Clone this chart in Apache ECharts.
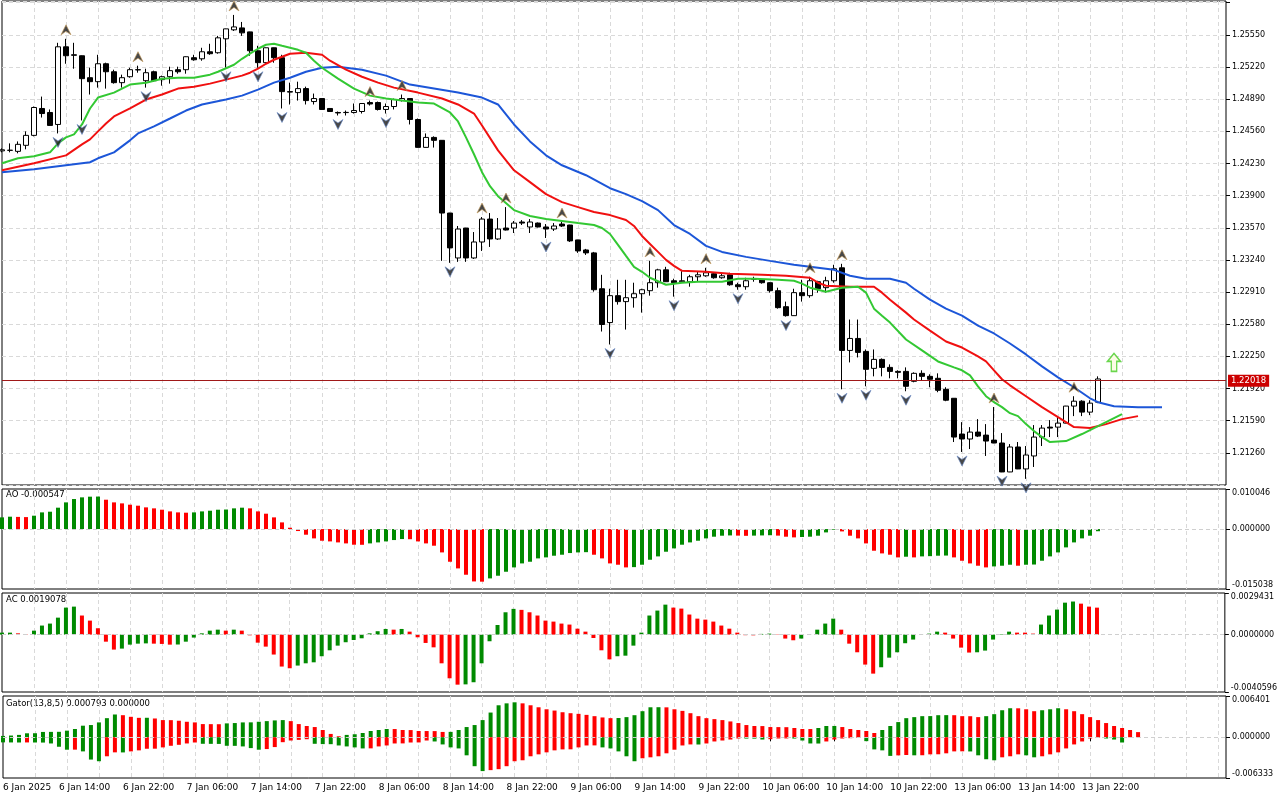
<!DOCTYPE html>
<html>
<head>
<meta charset="utf-8">
<title>GBPUSD H1 - Alligator, AO, AC, Gator</title>
<script src="https://cdn.jsdelivr.net/npm/echarts@6/dist/echarts.min.js"></script>
<style>
  html, body { margin: 0; padding: 0; background: #fff; }
  #chart { width: 1280px; height: 800px; }
</style>
</head>
<body>
<div id="chart"></div>
<script>
// --- bars (H1): [open, close, low, high]
const candles = [
  [1.24359,1.24370,1.24344,1.24385],[1.24364,1.24366,1.24344,1.24436],[1.24354,1.24426,1.24334,1.24456],[1.24416,1.24518,1.24375,1.24559],
  [1.24518,1.24804,1.24508,1.24814],[1.24794,1.24742,1.24701,1.24916],[1.24753,1.24620,1.24618,1.24784],[1.24630,1.25427,1.24538,1.25468],
  [1.25427,1.25335,1.25253,1.25509],[1.25345,1.25340,1.25202,1.25468],[1.25335,1.25100,1.24671,1.25338],[1.25110,1.25069,1.24937,1.25212],
  [1.25069,1.25253,1.25008,1.25345],[1.25253,1.25171,1.24998,1.25264],[1.25171,1.25059,1.25049,1.25192],[1.25059,1.25110,1.25008,1.25141],
  [1.25120,1.25192,1.25110,1.25212],[1.25192,1.25190,1.25161,1.25233],[1.25079,1.25161,1.25008,1.25202],[1.25171,1.25079,1.25069,1.25182],
  [1.25090,1.25120,1.25028,1.25131],[1.25120,1.25182,1.25049,1.25223],[1.25192,1.25171,1.25151,1.25223],[1.25192,1.25325,1.25151,1.25328],
  [1.25315,1.25294,1.25284,1.25345],[1.25304,1.25376,1.25284,1.25417],[1.25376,1.25356,1.25345,1.25458],[1.25366,1.25519,1.25356,1.25539],
  [1.25509,1.25611,1.25212,1.25613],[1.25601,1.25631,1.25590,1.25754],[1.25621,1.25570,1.25539,1.25682],[1.25580,1.25386,1.25335,1.25582],
  [1.25386,1.25264,1.25212,1.25437],[1.25264,1.25417,1.25253,1.25419],[1.25417,1.25315,1.25264,1.25419],[1.25315,1.24967,1.24794,1.25345],
  [1.24967,1.24962,1.24835,1.25059],[1.24957,1.24998,1.24875,1.25069],[1.24998,1.24875,1.24835,1.25018],[1.24865,1.24896,1.24835,1.24947],
  [1.24896,1.24784,1.24779,1.24898],[1.24794,1.24763,1.24758,1.24799],[1.24753,1.24748,1.24722,1.24763],[1.24752,1.24754,1.24722,1.24773],
  [1.24753,1.24773,1.24742,1.24845],[1.24763,1.24845,1.24742,1.24850],[1.24855,1.24840,1.24824,1.24875],[1.24855,1.24784,1.24773,1.24865],
  [1.24784,1.24814,1.24742,1.24845],[1.24814,1.24886,1.24784,1.24896],[1.24875,1.24896,1.24865,1.24937],[1.24896,1.24681,1.24630,1.24898],
  [1.24681,1.24395,1.24393,1.24691],[1.24395,1.24497,1.24393,1.24538],[1.24497,1.24467,1.24393,1.24508],[1.24467,1.23721,1.23230,1.24469],
  [1.23721,1.23363,1.23210,1.23723],[1.23260,1.23557,1.23220,1.23588],[1.23567,1.23260,1.23220,1.23569],[1.23260,1.23424,1.23250,1.23526],
  [1.23424,1.23659,1.23332,1.23680],[1.23659,1.23455,1.23373,1.23721],[1.23455,1.23557,1.23445,1.23670],[1.23567,1.23547,1.23542,1.23782],
  [1.23567,1.23618,1.23516,1.23639],[1.23629,1.23618,1.23598,1.23649],[1.23578,1.23629,1.23516,1.23659],[1.23618,1.23578,1.23573,1.23624],
  [1.23578,1.23557,1.23465,1.23608],[1.23557,1.23588,1.23537,1.23618],[1.23608,1.23588,1.23578,1.23629],[1.23598,1.23435,1.23424,1.23600],
  [1.23445,1.23332,1.23312,1.23447],[1.23342,1.23312,1.23291,1.23353],[1.23312,1.22934,1.22914,1.23322],[1.22944,1.22577,1.22505,1.23087],
  [1.22597,1.22873,1.22372,1.22944],[1.22873,1.22812,1.22781,1.23036],[1.22812,1.22852,1.22525,1.23036],[1.22852,1.22893,1.22750,1.23006],
  [1.22893,1.22934,1.22699,1.22944],[1.22924,1.23006,1.22873,1.23230],[1.23006,1.23138,1.22955,1.23149],[1.23138,1.23016,1.23014,1.23169],
  [1.23026,1.23006,1.22863,1.23047],[1.23016,1.23026,1.23006,1.23138],[1.23016,1.23067,1.22965,1.23087],[1.23067,1.23087,1.23016,1.23118],
  [1.23077,1.23108,1.23067,1.23159],[1.23098,1.23057,1.23047,1.23108],[1.23057,1.23077,1.23047,1.23108],[1.23087,1.22985,1.22975,1.23108],
  [1.22985,1.22965,1.22934,1.23006],[1.22965,1.23026,1.22934,1.23057],[1.23047,1.23042,1.23016,1.23067],[1.23036,1.23006,1.22996,1.23038],
  [1.23006,1.22924,1.22904,1.23011],[1.22924,1.22750,1.22740,1.22955],[1.22760,1.22668,1.22658,1.22812],[1.22668,1.22904,1.22666,1.22944],
  [1.22904,1.22873,1.22812,1.23036],[1.22873,1.23026,1.22852,1.23067],[1.23016,1.22944,1.22904,1.23026],[1.22955,1.23026,1.22904,1.23067],
  [1.23026,1.23149,1.23006,1.23190],[1.23159,1.22311,1.21912,1.23200],[1.22311,1.22434,1.22188,1.22628],[1.22434,1.22291,1.22239,1.22628],
  [1.22301,1.22117,1.21943,1.22321],[1.22127,1.22219,1.22045,1.22321],[1.22219,1.22137,1.22045,1.22229],[1.22137,1.22096,1.22025,1.22168],
  [1.22096,1.22086,1.22025,1.22107],[1.22096,1.21943,1.21892,1.22137],[1.21994,1.22076,1.21984,1.22086],[1.22076,1.22045,1.22004,1.22107],
  [1.22045,1.22015,1.21933,1.22066],[1.22025,1.21902,1.21882,1.22076],[1.21912,1.21800,1.21790,1.21933],[1.21820,1.21422,1.21371,1.21822],
  [1.21453,1.21402,1.21269,1.21575],[1.21402,1.21473,1.21299,1.21524],[1.21473,1.21432,1.21422,1.21606],[1.21442,1.21381,1.21228,1.21555],
  [1.21391,1.21361,1.21359,1.21730],[1.21361,1.21064,1.21062,1.21463],[1.21064,1.21320,1.21062,1.21350],[1.21320,1.21095,1.21093,1.21371],
  [1.21095,1.21238,1.20993,1.21330],[1.21228,1.21422,1.21115,1.21545],[1.21422,1.21514,1.21330,1.21545],[1.21524,1.21514,1.21422,1.21596],
  [1.21524,1.21565,1.21422,1.21637],[1.21565,1.21740,1.21563,1.21742],[1.21740,1.21790,1.21637,1.21841],[1.21790,1.21678,1.21637,1.21800],
  [1.21678,1.21770,1.21647,1.21800],[1.21780,1.22018,1.21770,1.22045]
];

// --- Alligator lines, read at bar positions: [bar index, price]
const jawPts = [
  [0,1.24140],[4,1.24170],[8,1.24211],[11,1.24242],[12,1.24283],[14,1.24344],[16,1.24467],[17,1.24538],[19,1.24610],[21,1.24691],
  [23,1.24773],[25,1.24835],[28,1.24886],[30,1.24926],[32,1.24988],[34,1.25059],[36,1.25110],[38,1.25171],[40,1.25212],[42,1.25223],
  [45,1.25192],[48,1.25131],[51,1.25039],[54,1.24998],[57,1.24957],[60,1.24906],[62,1.24835],[64,1.24630],[66,1.24456],[68,1.24313],
  [70,1.24211],[73,1.24109],[76,1.23976],[78,1.23915],[80,1.23843],[82,1.23751],[84,1.23598],[86,1.23506],[88,1.23384],[90,1.23322],
  [93,1.23271],[96,1.23230],[99,1.23190],[102,1.23159],[104,1.23138],[106,1.23077],[108,1.23047],[111,1.23047],[113,1.23006],[114,1.22944],
  [116,1.22832],[118,1.22740],[120,1.22668],[122,1.22566],[124,1.22485],[126,1.22382],[128,1.22270],[130,1.22147],[132,1.22035],[134,1.21933],
  [136,1.21820],[137,1.21780],[139,1.21739],[142,1.21729],[145,1.21729]
];
const teethPts = [
  [0,1.24160],[4,1.24232],[8,1.24313],[10,1.24426],[11,1.24477],[12,1.24559],[13,1.24640],[14,1.24712],[16,1.24794],[18,1.24886],
  [20,1.24937],[22,1.24998],[24,1.25018],[26,1.25049],[28,1.25090],[30,1.25131],[31,1.25161],[32,1.25202],[33,1.25253],[34,1.25294],
  [35,1.25325],[36,1.25356],[38,1.25366],[40,1.25345],[41,1.25284],[43,1.25192],[45,1.25120],[47,1.25059],[49,1.25008],[52,1.24957],
  [55,1.24896],[57,1.24835],[59,1.24742],[60,1.24620],[62,1.24364],[64,1.24160],[66,1.24038],[68,1.23915],[70,1.23833],[72,1.23782],
  [74,1.23731],[76,1.23700],[78,1.23649],[79,1.23588],[80,1.23486],[81,1.23404],[82,1.23322],[83,1.23240],[84,1.23179],[85,1.23128],
  [88,1.23118],[91,1.23098],[95,1.23087],[98,1.23077],[101,1.23057],[102,1.23006],[103,1.22975],[106,1.22965],[109,1.22965],[110,1.22904],
  [111,1.22832],[113,1.22699],[114,1.22628],[116,1.22515],[118,1.22403],[120,1.22341],[122,1.22249],[123,1.22198],[124,1.22107],[125,1.22015],
  [126,1.21953],[128,1.21841],[130,1.21729],[132,1.21626],[134,1.21524],[136,1.21514],[138,1.21555],[140,1.21606],[142,1.21637]
];
const lipsPts = [
  [0,1.24232],[2,1.24283],[4,1.24303],[6,1.24344],[7,1.24436],[8,1.24497],[9,1.24528],[10,1.24630],[11,1.24794],[12,1.24906],
  [14,1.24957],[16,1.25039],[18,1.25059],[20,1.25100],[22,1.25110],[24,1.25110],[26,1.25141],[27,1.25171],[29,1.25243],[30,1.25304],
  [31,1.25356],[32,1.25407],[33,1.25448],[34,1.25458],[35,1.25437],[36,1.25417],[37,1.25396],[38,1.25366],[39,1.25284],[40,1.25212],
  [42,1.25100],[44,1.24998],[46,1.24926],[48,1.24896],[50,1.24875],[52,1.24855],[54,1.24845],[56,1.24753],[57,1.24661],[58,1.24497],
  [59,1.24324],[60,1.24140],[61,1.23997],[62,1.23894],[64,1.23751],[66,1.23690],[68,1.23659],[70,1.23639],[72,1.23618],[74,1.23598],
  [75,1.23567],[76,1.23506],[77,1.23394],[78,1.23281],[79,1.23169],[80,1.23118],[81,1.23057],[83,1.22985],[85,1.23006],[87,1.23016],
  [90,1.23016],[92,1.23047],[94,1.23047],[97,1.23036],[99,1.23026],[100,1.22996],[101,1.22955],[103,1.22914],[105,1.22955],[107,1.22965],
  [108,1.22904],[109,1.22740],[110,1.22668],[111,1.22597],[113,1.22423],[115,1.22311],[117,1.22198],[119,1.22137],[120,1.22107],[121,1.22055],
  [122,1.21943],[123,1.21841],[124,1.21780],[125,1.21729],[126,1.21667],[127,1.21637],[128,1.21555],[129,1.21483],[130,1.21422],[131,1.21371],
  [133,1.21381],[135,1.21453],[137,1.21534],[139,1.21616],[140,1.21657]
];

// fractal bars
const fractalUp = [8, 17, 29, 46, 50, 60, 63, 70, 81, 88, 101, 105, 124, 134];
const fractalDown = [7, 10, 18, 28, 32, 35, 42, 48, 56, 68, 76, 84, 92, 98, 105, 108, 113, 120, 125, 128];
const buySignal = [139, 1.22188];
const lastPrice = 1.22018;

// --- Awesome Oscillator
const aoValues = [
  0.00293,0.00310,0.00305,0.00300,0.00335,0.00418,0.00435,0.00536,0.00669,0.00753,
  0.00795,0.00812,0.00815,0.00736,0.00669,0.00644,0.00611,0.00586,0.00544,0.00519,
  0.00485,0.00443,0.00418,0.00410,0.00418,0.00443,0.00460,0.00485,0.00490,0.00519,
  0.00536,0.00519,0.00443,0.00385,0.00293,0.00167,0.00033,-0.00050,-0.00142,-0.00234,
  -0.00293,-0.00310,-0.00335,-0.00360,-0.00393,-0.00395,-0.00360,-0.00335,-0.00310,-0.00276,
  -0.00251,-0.00255,-0.00310,-0.00360,-0.00418,-0.00586,-0.00820,-0.00987,-0.01146,-0.01314,
  -0.01320,-0.01238,-0.01171,-0.01071,-0.00962,-0.00862,-0.00820,-0.00736,-0.00711,-0.00669,
  -0.00644,-0.00602,-0.00586,-0.00580,-0.00644,-0.00736,-0.00862,-0.00895,-0.00962,-0.00955,
  -0.00895,-0.00770,-0.00686,-0.00569,-0.00485,-0.00393,-0.00335,-0.00293,-0.00234,-0.00192,
  -0.00167,-0.00160,-0.00165,-0.00170,-0.00165,-0.00160,-0.00155,-0.00165,-0.00192,-0.00209,
  -0.00200,-0.00192,-0.00167,-0.00084,-0.00017,-0.00059,-0.00167,-0.00234,-0.00360,-0.00544,
  -0.00611,-0.00644,-0.00711,-0.00694,-0.00711,-0.00686,-0.00680,-0.00669,-0.00665,-0.00711,
  -0.00795,-0.00862,-0.00920,-0.00962,-0.00937,-0.00920,-0.00895,-0.00920,-0.00895,-0.00890,
  -0.00795,-0.00686,-0.00586,-0.00460,-0.00335,-0.00234,-0.00167,-0.000547
];
const aoColors =
  "ggrrgggggg" + "gggrrrrrrr" + "rrrrgggggg" + "grrrrrrrrr" + "rrrrrrgggg" +
  "grrrrrrrrr" + "rggggggggg" + "ggggrrrrrg" + "gggggggggg" + "ggrrgggrrr" +
  "gggggrrrrr" + "rrrgrggggr" + "rrrrgggrgg" + "gggggggg";

// --- Accelerator Oscillator
const acValues = [
  0.00014,0.00014,0.00009,0.00002,0.00028,0.00064,0.00078,0.00120,0.00191,0.00198,
  0.00135,0.00099,0.00045,-0.00050,-0.00106,-0.00099,-0.00071,-0.00064,-0.00062,-0.00064,
  -0.00066,-0.00071,-0.00070,-0.00050,-0.00021,0.00009,0.00028,0.00035,0.00028,0.00035,
  0.00028,-0.00005,-0.00057,-0.00085,-0.00141,-0.00226,-0.00238,-0.00219,-0.00203,-0.00196,
  -0.00153,-0.00111,-0.00078,-0.00054,-0.00038,-0.00026,0.00009,0.00024,0.00040,0.00035,
  0.00040,0.00021,-0.00019,-0.00059,-0.00090,-0.00203,-0.00309,-0.00354,-0.00352,-0.00337,
  -0.00203,-0.00047,0.00068,0.00158,0.00182,0.00175,0.00158,0.00135,0.00099,0.00092,
  0.00078,0.00071,0.00042,0.00021,-0.00024,-0.00111,-0.00175,-0.00153,-0.00149,-0.00078,
  0.00014,0.00135,0.00170,0.00212,0.00191,0.00184,0.00142,0.00113,0.00106,0.00092,
  0.00064,0.00042,0.00014,-0.00004,-0.00005,0.00005,0.00007,0.00002,-0.00028,-0.00040,
  -0.00028,-0.00002,0.00035,0.00078,0.00113,0.00035,-0.00064,-0.00125,-0.00212,-0.00276,
  -0.00231,-0.00163,-0.00125,-0.00061,-0.00035,0.00002,0.00007,0.00021,0.00014,-0.00028,
  -0.00092,-0.00127,-0.00125,-0.00113,-0.00035,0.00003,0.00021,0.00014,0.00014,0.00007,
  0.00071,0.00135,0.00177,0.00226,0.00234,0.00219,0.00198,0.0019078
];
const acColors =
  "ggrrgggggg" + "rrrrrggggr" + "rrggggggrg" + "rrrrrrrggg" + "gggggggggr" +
  "grrrrrrrgg" + "gggggrrrrr" + "rrrrrrrggg" + "ggggrrrrrr" + "rrrrrggrrr" +
  "gggggrrrrr" + "ggggggggrr" + "rrgggggrrr" + "gggggrrr";

// --- Gator oscillator (upper = |jaw-teeth|, lower = -|teeth-lips|)
const gatorUpper = [
  0.00020,0.00026,0.00036,0.00061,0.00062,0.00082,0.00083,0.00084,0.00102,0.00128,
  0.00179,0.00189,0.00230,0.00296,0.00353,0.00342,0.00317,0.00301,0.00302,0.00291,
  0.00266,0.00265,0.00256,0.00240,0.00230,0.00204,0.00203,0.00202,0.00215,0.00220,
  0.00230,0.00231,0.00240,0.00250,0.00261,0.00266,0.00250,0.00204,0.00174,0.00158,
  0.00112,0.00051,0.00015,0.00036,0.00046,0.00066,0.00097,0.00112,0.00128,0.00127,
  0.00112,0.00111,0.00097,0.00096,0.00095,0.00082,0.00083,0.00112,0.00158,0.00189,
  0.00266,0.00383,0.00496,0.00526,0.00542,0.00526,0.00496,0.00465,0.00434,0.00414,
  0.00388,0.00373,0.00363,0.00347,0.00327,0.00307,0.00296,0.00298,0.00312,0.00342,
  0.00404,0.00465,0.00466,0.00464,0.00434,0.00409,0.00373,0.00327,0.00296,0.00281,
  0.00266,0.00245,0.00220,0.00189,0.00174,0.00173,0.00158,0.00157,0.00156,0.00143,
  0.00128,0.00127,0.00143,0.00174,0.00175,0.00158,0.00128,0.00112,0.00097,0.00066,
  0.00112,0.00174,0.00235,0.00296,0.00312,0.00327,0.00328,0.00342,0.00343,0.00342,
  0.00327,0.00326,0.00312,0.00327,0.00358,0.00419,0.00450,0.00449,0.00434,0.00404,
  0.00419,0.00434,0.00450,0.00434,0.00404,0.00358,0.00312,0.00266,0.00220,0.00174,
  0.00143,0.00112,0.000793
];
const gatorLower = [
  -0.00080,-0.00081,-0.00082,-0.00081,-0.00082,-0.00083,-0.00097,-0.00148,-0.00194,-0.00193,
  -0.00220,-0.00347,-0.00373,-0.00296,-0.00235,-0.00236,-0.00220,-0.00204,-0.00179,-0.00178,
  -0.00158,-0.00133,-0.00118,-0.00097,-0.00082,-0.00102,-0.00103,-0.00104,-0.00133,-0.00134,
  -0.00143,-0.00169,-0.00194,-0.00184,-0.00153,-0.00077,-0.00051,-0.00041,-0.00031,-0.00102,
  -0.00107,-0.00108,-0.00128,-0.00143,-0.00158,-0.00174,-0.00173,-0.00143,-0.00128,-0.00097,
  -0.00096,-0.00082,-0.00081,-0.00051,-0.00066,-0.00112,-0.00158,-0.00174,-0.00281,-0.00450,
  -0.00526,-0.00511,-0.00496,-0.00450,-0.00373,-0.00358,-0.00296,-0.00266,-0.00235,-0.00204,
  -0.00189,-0.00188,-0.00158,-0.00128,-0.00127,-0.00158,-0.00174,-0.00220,-0.00296,-0.00373,
  -0.00327,-0.00312,-0.00296,-0.00250,-0.00194,-0.00128,-0.00112,-0.00113,-0.00097,-0.00066,
  -0.00051,-0.00036,-0.00020,-0.00021,-0.00022,-0.00036,-0.00031,-0.00020,-0.00019,-0.00021,
  -0.00051,-0.00097,-0.00098,-0.00066,-0.00036,-0.00020,-0.00015,-0.00010,-0.00061,-0.00189,
  -0.00204,-0.00290,-0.00282,-0.00276,-0.00281,-0.00280,-0.00266,-0.00265,-0.00250,-0.00220,
  -0.00219,-0.00221,-0.00281,-0.00342,-0.00358,-0.00312,-0.00296,-0.00266,-0.00281,-0.00312,
  -0.00296,-0.00266,-0.00235,-0.00174,-0.00112,-0.00066,-0.00020,-0.00005,-0.00020,-0.00036,
  -0.00082
];

// time axis labels, one every 8 bars
const timeLabels = ['6 Jan 2025', '6 Jan 14:00', '6 Jan 22:00', '7 Jan 06:00', '7 Jan 14:00', '7 Jan 22:00',
  '8 Jan 06:00', '8 Jan 14:00', '8 Jan 22:00', '9 Jan 06:00', '9 Jan 14:00', '9 Jan 22:00',
  '10 Jan 06:00', '10 Jan 14:00', '10 Jan 22:00', '13 Jan 06:00', '13 Jan 14:00', '13 Jan 22:00'];

const SLOTS = 154; // bars + room for shifted Alligator lines
const GREEN = '#008a00', RED = '#ff0000';
const FONT = 'DejaVu Sans';

const cats = [];
for (let i = 0; i < SLOTS; i++) cats.push(String(i));

function colored(values, codes) {
  return values.map(function (v, i) {
    return { value: v, itemStyle: { color: codes[i] === 'g' ? GREEN : RED } };
  });
}
function gatorColored(values) {
  let prev = null, col = GREEN;
  return values.map(function (v) {
    const a = Math.abs(v);
    if (prev !== null) {
      if (a > prev) col = GREEN; else if (a < prev) col = RED;
    }
    prev = a;
    return { value: v, itemStyle: { color: col } };
  });
}

const grids = [
  { left: 2, right: 54, top: 1, height: 484 },
  { left: 2, right: 54, top: 489, height: 100 },
  { left: 2, right: 54, top: 593, height: 99 },
  { left: 2, right: 54, top: 696, height: 82 }
].map(function (g) {
  return Object.assign({ show: true, borderColor: '#000', borderWidth: 1, backgroundColor: '#fff' }, g);
});

const dashed = { color: '#d9d9d9', type: [4, 3], width: 1 };

function makeX(idx) {
  const last = idx === 3;
  return {
    type: 'category', gridIndex: idx, data: cats, boundaryGap: false,
    axisLine: { show: false },
    axisTick: {
      show: last, length: 4, lineStyle: { color: '#000' },
      interval: function (i) { return i % 8 === 0 && i <= 136; }
    },
    axisLabel: {
      show: last, fontFamily: FONT, fontSize: 9, color: '#000', margin: 5, align: 'left',
      interval: function (i) { return i === 0 || (i % 8 === 7 && i < 136); },
      formatter: function (v, i) { return i === 0 ? timeLabels[0] : timeLabels[(i + 1) / 8]; }
    },
    splitLine: { show: true, lineStyle: dashed, interval: function (i) { return i > 0 && i % 4 === 0; } }
  };
}

function subY(idx, min, max, digits) {
  return {
    type: 'value', gridIndex: idx, position: 'right', min: min, max: max, scale: true,
    axisLine: { show: false },
    splitLine: { show: false },
    axisTick: { show: true, length: 4, lineStyle: { color: '#000' }, customValues: [min, 0, max] },
    axisLabel: {
      fontFamily: FONT, fontSize: 8, color: '#000', margin: 6,
      customValues: [min, 0, max],
      verticalAlignMaxLabel: 'top', verticalAlignMinLabel: 'bottom',
      formatter: function (v) { return v.toFixed(digits); }
    }
  };
}

const zeroLine = {
  symbol: 'none', silent: true, animation: false,
  lineStyle: { color: '#cfcfcf', type: [4, 3], width: 1 },
  label: { show: false },
  data: [{ yAxis: 0 }]
};

const upArrow = 'path://M5,0 L10,10 L5,6.5 L0,10 Z';
const downArrow = 'path://M0,0 L5,3.5 L10,0 L5,10 Z';
const buyArrow = 'path://M6,0 L12,7 L8.5,7 L8.5,16 L3.5,16 L3.5,7 L0,7 Z';

const chart = echarts.init(document.getElementById('chart'), null, { renderer: 'canvas' });

const option = {
  animation: false,
  backgroundColor: '#fff',
  grid: grids,
  xAxis: [makeX(0), makeX(1), makeX(2), makeX(3)],
  yAxis: [
    {
      type: 'value', gridIndex: 0, position: 'right', min: 1.2093, max: 1.25897, interval: 0.0033,
      axisLine: { show: false },
      axisTick: { show: true, length: 4, lineStyle: { color: '#000' } },
      axisLabel: {
        fontFamily: FONT, fontSize: 8, color: '#000', margin: 6,
        showMinLabel: false, showMaxLabel: false,
        // the price scale shows no label in the top strip of the pane
        formatter: function (v) { return v > 1.257 ? '' : v.toFixed(5); }
      },
      splitLine: { show: true, lineStyle: dashed }
    },
    subY(1, -0.015038, 0.010046, 6),
    subY(2, -0.0040596, 0.0029431, 7),
    subY(3, -0.006333, 0.006401, 6)
  ],
  graphic: [
    { type: 'text', left: 6, top: 490, style: { text: 'AO -0.000547', fontFamily: FONT, fontSize: 8.5, fill: '#000' } },
    { type: 'text', left: 6, top: 595, style: { text: 'AC 0.0019078', fontFamily: FONT, fontSize: 8.5, fill: '#000' } },
    { type: 'text', left: 6, top: 699, style: { text: 'Gator(13,8,5) 0.000793 0.000000', fontFamily: FONT, fontSize: 8.5, fill: '#000' } }
  ],
  series: [
    {
      name: 'Price', type: 'candlestick', xAxisIndex: 0, yAxisIndex: 0,
      data: candles, barWidth: 5,
      itemStyle: { color: '#fff', color0: '#000', borderColor: '#000', borderColor0: '#000', borderWidth: 1 },
      markLine: {
        symbol: 'none', silent: true, animation: false,
        lineStyle: { color: '#a01818', type: 'solid', width: 1 },
        label: {
          position: 'end', distance: 2, formatter: lastPrice.toFixed(5),
          backgroundColor: '#cc0000', color: '#fff', fontFamily: FONT, fontSize: 8.5, padding: [2, 3, 1, 3]
        },
        data: [{ yAxis: lastPrice }]
      }
    },
    { name: 'Jaw', type: 'line', xAxisIndex: 0, yAxisIndex: 0, data: jawPts, symbol: 'none', z: 3,
      lineStyle: { color: '#1c56d8', width: 2 } },
    { name: 'Teeth', type: 'line', xAxisIndex: 0, yAxisIndex: 0, data: teethPts, symbol: 'none', z: 3,
      lineStyle: { color: '#f01010', width: 2 } },
    { name: 'Lips', type: 'line', xAxisIndex: 0, yAxisIndex: 0, data: lipsPts, symbol: 'none', z: 3,
      lineStyle: { color: '#33c833', width: 2 } },
    {
      name: 'Fractal up', type: 'scatter', xAxisIndex: 0, yAxisIndex: 0, z: 4,
      data: fractalUp.map(function (i) { return [i, candles[i][3]]; }),
      symbol: upArrow, symbolSize: [10, 10], symbolOffset: [0, -9],
      itemStyle: { color: '#1a1a1a', borderColor: '#c49a5a', borderWidth: 0.8 }
    },
    {
      name: 'Fractal down', type: 'scatter', xAxisIndex: 0, yAxisIndex: 0, z: 4,
      data: fractalDown.map(function (i) { return [i, candles[i][2]]; }),
      symbol: downArrow, symbolSize: [10, 10], symbolOffset: [0, 9],
      itemStyle: { color: '#1a1a1a', borderColor: '#6a8ac8', borderWidth: 0.8 }
    },
    {
      name: 'Buy', type: 'scatter', xAxisIndex: 0, yAxisIndex: 0, z: 4,
      data: [buySignal], symbol: buyArrow, symbolSize: [13, 18],
      itemStyle: { color: '#fbfbe0', borderColor: '#44cc22', borderWidth: 1.5 }
    },
    { name: 'AO', type: 'bar', xAxisIndex: 1, yAxisIndex: 1, barWidth: 4,
      data: colored(aoValues, aoColors), markLine: zeroLine },
    { name: 'AC', type: 'bar', xAxisIndex: 2, yAxisIndex: 2, barWidth: 4,
      data: colored(acValues, acColors), markLine: zeroLine },
    { name: 'Gator up', type: 'bar', xAxisIndex: 3, yAxisIndex: 3, barWidth: 4, barGap: '-100%',
      data: gatorColored(gatorUpper), markLine: zeroLine },
    { name: 'Gator down', type: 'bar', xAxisIndex: 3, yAxisIndex: 3, barWidth: 4, barGap: '-100%',
      data: gatorColored(gatorLower) }
  ]
};

chart.setOption(option);
</script>
</body>
</html>
